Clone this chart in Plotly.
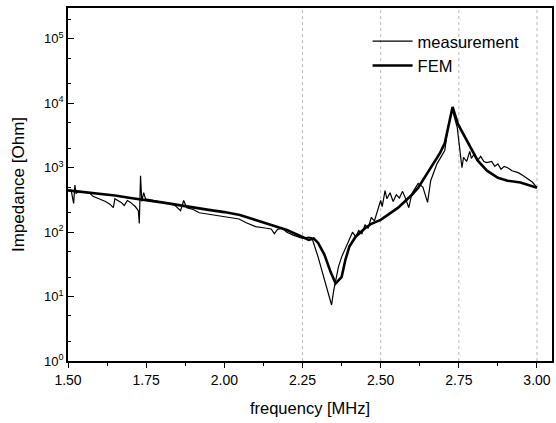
import plotly.graph_objects as go

# ---- data ----
meas_f = [1.500, 1.510, 1.518, 1.522, 1.526, 1.535, 1.55, 1.57, 1.58, 1.60, 1.62, 1.635, 1.645,
          1.65, 1.66, 1.67, 1.68, 1.69, 1.70, 1.715, 1.725, 1.728, 1.732, 1.736, 1.742, 1.748,
          1.76, 1.78, 1.80, 1.82, 1.84, 1.86, 1.87, 1.88, 1.90, 1.92, 1.95, 2.00, 2.047, 2.07,
          2.10, 2.13, 2.15, 2.16, 2.17, 2.185, 2.20, 2.22, 2.24, 2.25, 2.27, 2.28, 2.30, 2.32,
          2.335, 2.343, 2.35, 2.365, 2.375, 2.39, 2.40, 2.41, 2.42, 2.43, 2.44, 2.45, 2.46,
          2.47, 2.48, 2.49, 2.50, 2.505, 2.514, 2.52, 2.53, 2.54, 2.55, 2.56, 2.57, 2.58, 2.59,
          2.60, 2.62, 2.635, 2.65, 2.66, 2.68, 2.705, 2.715, 2.725, 2.73, 2.738, 2.745, 2.76,
          2.765, 2.775, 2.785, 2.79, 2.80, 2.81, 2.82, 2.83, 2.84, 2.855, 2.865, 2.875, 2.885,
          2.895, 2.906, 2.92, 2.94, 2.955, 2.97, 2.985, 3.00]
meas_z = [440, 450, 280, 540, 400, 430, 420, 400, 360, 330, 300, 270, 240,
          330, 310, 290, 260, 310, 290, 250, 215, 137, 750, 300, 410, 330,
          320, 305, 290, 275, 265, 215, 310, 240, 225, 200, 190, 175, 160, 140,
          122, 116, 112, 95, 110, 115, 100, 90, 83, 80, 84, 82, 41, 18,
          10, 7.4, 12.6, 29, 41, 60, 80, 100, 85, 106, 95, 130, 115,
          170, 150, 210, 310, 250, 440, 330, 410, 300, 380, 340, 430, 330, 240,
          400, 570, 500, 290, 630, 1150, 1850, 4200, 6500, 7700, 5600, 4200, 1000,
          1450, 1250, 1800, 1400, 1650, 1300, 1500, 1250, 1200, 1250, 1050, 1150, 950,
          1050, 1000, 900, 840, 760, 680, 600, 490]

fem_f = [1.50, 1.55, 1.60, 1.65, 1.70, 1.75, 1.80, 1.85, 1.90, 1.95, 2.00, 2.05, 2.10,
         2.15, 2.20, 2.25, 2.27, 2.286, 2.30, 2.32, 2.34, 2.356, 2.375, 2.387, 2.40, 2.42,
         2.45, 2.47, 2.50, 2.556, 2.60, 2.62, 2.66, 2.69, 2.705, 2.72, 2.73, 2.747, 2.78,
         2.81, 2.84, 2.875, 2.906, 2.947, 3.00]
fem_z = [445, 420, 395, 370, 340, 310, 290, 265, 240, 222, 205, 185, 155,
         130, 108, 84, 76, 80, 68, 45, 24, 16, 20, 37, 60, 85,
         115, 135, 155, 240, 380, 490, 1000, 1700, 2400, 5000, 8800, 4800, 2350,
         1300, 900, 700, 630, 590, 490]

x_ticks = [1.50, 1.75, 2.00, 2.25, 2.50, 2.75, 3.00]
x_tick_labels = ["1.50", "1.75", "2.00", "2.25", "2.50", "2.75", "3.00"]
y_ticks = [1, 10, 100, 1000, 10000, 100000]
y_tick_labels = ["10<sup>0</sup>", "10<sup>1</sup>", "10<sup>2</sup>",
                 "10<sup>3</sup>", "10<sup>4</sup>", "10<sup>5</sup>"]
grid_x = [2.25, 2.50, 2.75, 3.00]

fig = go.Figure()
fig.add_trace(go.Scatter(x=meas_f, y=meas_z, mode="lines", name="measurement",
                         line=dict(color="black", width=1.2)))
fig.add_trace(go.Scatter(x=fem_f, y=fem_z, mode="lines", name="FEM",
                         line=dict(color="black", width=2.6)))

for gx in grid_x:
    fig.add_shape(type="line", x0=gx, x1=gx, y0=0, y1=1, xref="x", yref="paper",
                  line=dict(color="#b8b8b8", width=1, dash="dot"), layer="below")

font = "Liberation Sans, Arial, sans-serif"
fig.update_layout(
    width=556, height=423,
    margin=dict(l=68, r=2, t=8, b=62),
    paper_bgcolor="white", plot_bgcolor="white",
    font=dict(family=font, size=13, color="black"),
    showlegend=True,
    legend=dict(x=0.619, y=0.955, xanchor="left", yanchor="top",
                bgcolor="rgba(0,0,0,0)", font=dict(size=16.5), tracegroupgap=0,
                itemwidth=40),
    xaxis=dict(range=[1.5, 3.048], tickvals=x_ticks, ticktext=x_tick_labels,
               showgrid=False, zeroline=False, showline=True, linecolor="black",
               linewidth=1.5, mirror=True, ticks="outside", ticklen=5,
               tickcolor="black", tickfont=dict(size=14),
               minor=dict(ticks="outside", ticklen=3, tickcolor="black", dtick=0.125,
                          tick0=1.5),
               title=dict(text="frequency [MHz]", font=dict(size=16.5), standoff=16)),
    yaxis=dict(type="log", range=[0, 5.48], tickvals=y_ticks, ticktext=y_tick_labels,
               showgrid=False, zeroline=False, showline=True, linecolor="black",
               linewidth=1.5, mirror=True, ticks="inside", ticklen=6,
               tickcolor="black", tickfont=dict(size=13),
               minor=dict(ticks="inside", ticklen=3, tickcolor="black", showgrid=False),
               title=dict(text="Impedance [Ohm]", font=dict(size=17), standoff=15)),
)

fig.write_html("out.html", config={"displayModeBar": False},
               post_script="document.body.style.margin='0';")
